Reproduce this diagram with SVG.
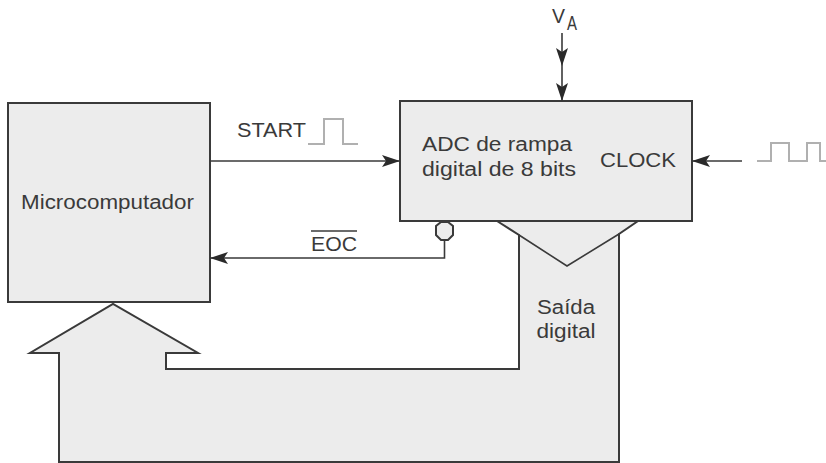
<svg xmlns="http://www.w3.org/2000/svg" width="826" height="463" viewBox="0 0 826 463">
<style>
.box{fill:#ececec;stroke:#3a3a3a;stroke-width:2}
.wire{fill:none;stroke:#3a3a3a;stroke-width:1.6}
.pulse{fill:none;stroke:#b0b0b0;stroke-width:2}
.t{font-family:"Liberation Sans",Arial,sans-serif;font-size:20px;fill:#3a3a3a}
</style>
<defs>
<marker id="ah" markerUnits="userSpaceOnUse" markerWidth="18" markerHeight="12" refX="18" refY="6" orient="auto">
<path d="M0,0 L18,6 L0,12 L4,6 z" fill="#2a2a2a"/>
</marker>
</defs>
<g id="bus">
<path class="box" d="M497,221 L519,235 L519,369 L166,369 L166,353 L198,353 L113,304 L30,353 L59,353 L59,462 L619,462 L619,234 L638,221 Z"/>
<path class="wire" d="M519,235 L567,266 L619,234" stroke-width="2"/>
<text class="t" x="566" y="314" text-anchor="middle" textLength="58" lengthAdjust="spacingAndGlyphs">Saída</text>
<text class="t" x="566" y="338" text-anchor="middle" textLength="59" lengthAdjust="spacingAndGlyphs">digital</text>
</g>
<g id="micro">
<rect class="box" x="8" y="103" width="202" height="199"/>
<text class="t" x="21" y="209" textLength="173" lengthAdjust="spacingAndGlyphs">Microcomputador</text>
</g>
<g id="adc">
<rect class="box" x="400" y="101" width="292" height="120"/>
<text class="t" x="422" y="151" textLength="150" lengthAdjust="spacingAndGlyphs">ADC de rampa</text>
<text class="t" x="422" y="176" textLength="154" lengthAdjust="spacingAndGlyphs">digital de 8 bits</text>
<text class="t" x="600" y="167" textLength="76" lengthAdjust="spacingAndGlyphs">CLOCK</text>
<polygon points="441,222 448,222 453,226 453,235 448,240 441,240 436,235 436,226" fill="#ececec" stroke="#3a3a3a" stroke-width="2"/>
</g>
<g id="va">
<text class="t" x="552" y="23" font-size="19" textLength="13" lengthAdjust="spacingAndGlyphs">V</text>
<text class="t" x="567" y="30" font-size="13" textLength="10" lengthAdjust="spacingAndGlyphs">A</text>
</g>
<g id="start-label">
<text class="t" x="237" y="137" textLength="69" lengthAdjust="spacingAndGlyphs">START</text>
<path class="pulse" d="M308,144 L324,144 L324,119 L343,119 L343,144 L358,144"/>
</g>
<g id="eoc-label">
<text class="t" x="311" y="251" textLength="46" lengthAdjust="spacingAndGlyphs">EOC</text>
<line x1="311" y1="231" x2="357" y2="231" stroke="#3a3a3a" stroke-width="1.5"/>
</g>
<g id="clock-signal">
<path class="pulse" d="M757,161 L771,161 L771,143 L789,143 L789,161 L807,161 L807,143 L820,143 L820,161 L826,161"/>
</g>
<g id="connectors">
<line class="wire" x1="210" y1="161" x2="400" y2="161" marker-end="url(#ah)"/>
<line class="wire" x1="742" y1="161" x2="692" y2="161" marker-end="url(#ah)"/>
<polyline class="wire" points="444.5,240 444.5,258 210,258" marker-end="url(#ah)"/>
<line class="wire" x1="562" y1="33" x2="562" y2="66" marker-end="url(#ah)"/>
<line class="wire" x1="562" y1="66" x2="562" y2="101" marker-end="url(#ah)"/>
</g>
</svg>
